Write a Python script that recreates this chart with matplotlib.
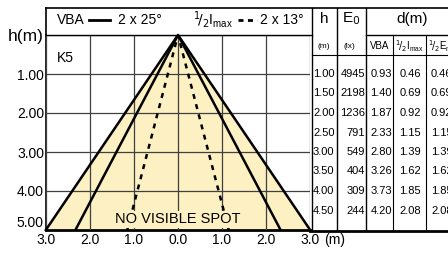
import numpy as np
import matplotlib.pyplot as plt
from matplotlib.lines import Line2D
from matplotlib import transforms

plt.rcParams['font.family'] = ['Liberation Sans', 'DejaVu Sans']

# beam data
vba_angle = 25.0          # 2 x 25 deg
half_imax_angle = 13.0    # 2 x 13 deg
outer_angle = 31.0        # outer light cone
max_h = 5.0

heights = [1.00, 1.50, 2.00, 2.50, 3.00, 3.50, 4.00, 4.50]
e0 = [4945, 2198, 1236, 791, 549, 404, 309, 244]
d_vba = [0.93, 1.40, 1.87, 2.33, 2.80, 3.26, 3.73, 4.20]
d_half_imax = [0.46, 0.69, 0.92, 1.15, 1.39, 1.62, 1.85, 2.08]
d_half_e = [0.46, 0.69, 0.92, 1.15, 1.39, 1.62, 1.85, 2.08]

x_ticks = [-3, -2, -1, 0, 1, 2, 3]
h_ticks = [0, 1, 2, 3, 4, 5]

W, H = 448, 254
def fx(px):
    return px / W
def fy(py):
    return 1 - py / H

fig = plt.figure(figsize=(W / 100, H / 100), dpi=100)
ax = fig.add_axes([fx(46), fy(230), (310 - 46) / W, (230 - 35) / H])
ax.set_xlim(-3, 3)
ax.set_ylim(5, 0)

# cones
r_out = max_h * np.tan(np.radians(outer_angle))
r_vba = max_h * np.tan(np.radians(vba_angle))
r_imax = max_h * np.tan(np.radians(half_imax_angle))
ax.fill([-r_out, 0, r_out], [max_h, 0, max_h], color='#fdf0c2', zorder=1, lw=0)
ax.plot([-r_out, 0, r_out], [max_h, 0, max_h], color='black', lw=1.8, zorder=3, clip_on=False)
ax.plot([-r_vba, 0, r_vba], [max_h, 0, max_h], color='black', lw=1.8, zorder=3)
ax.plot([-r_imax, 0, r_imax], [max_h, 0, max_h], color='black', lw=1.8, zorder=3,
        dashes=(2.0, 2.2))

ax.text(0, 4.72, 'NO VISIBLE SPOT', ha='center', va='center', fontsize=10.5, zorder=4,
        bbox=dict(facecolor='#fdf0c2', edgecolor='none', pad=1.0))

# grid and axes
ax.set_xticks(x_ticks)
ax.set_yticks(h_ticks)
ax.set_xticklabels(['%.1f' % abs(v) for v in x_ticks], fontsize=10)
ax.set_yticklabels(['h(m)'] + ['%.2f' % v for v in h_ticks[1:]], fontsize=10)
ylabs = ax.get_yticklabels()
ylabs[0].set_fontsize(12.5)
ylabs[-1].set_verticalalignment('bottom')
ax.tick_params(length=0, pad=1.5)
ax.tick_params(axis='x', pad=2.5)
ax.grid(True, color='#404040', lw=0.9, zorder=2)
ax.set_axisbelow(False)
for s in ['top', 'right']:
    ax.spines[s].set_visible(False)
ax.spines['left'].set_linewidth(1.2)
ax.spines['bottom'].set_linewidth(2.0)
fig.text(fx(324), fy(240), '(m)', fontsize=10, ha='left', va='center')

# header box
def hline(y, x0, x1, lw=1.0):
    fig.add_artist(Line2D([fx(x0), fx(x1)], [fy(y), fy(y)], color='black', lw=lw))
def vline(x, y0, y1, lw=1.0):
    fig.add_artist(Line2D([fx(x), fx(x)], [fy(y0), fy(y1)], color='black', lw=lw))

hline(7.5, 46, 448, 1.2)
vline(46, 7.5, 35, 1.2)
hline(35, 46, 312, 1.0)
hline(35, 366, 448, 1.0)
hline(55, 312, 448, 0.8)
hline(230.5, 310, 448, 2.0)
vline(311.5, 7.5, 230, 1.0)
vline(337, 7.5, 230, 1.0)
vline(366, 7.5, 230, 1.0)
vline(393, 35, 230, 0.8)
vline(426, 35, 230, 0.8)

fig.text(fx(57), fy(20), 'VBA', fontsize=10, va='center')
fig.add_artist(Line2D([fx(89), fx(110)], [fy(20), fy(20)], color='black', lw=2.0))
fig.text(fx(118), fy(20), '2 x 25°', fontsize=10, va='center')
fig.text(fx(193), fy(20), r'$^{1}\!/_{2}$I$_{\mathregular{max}}$', fontsize=10, va='center')
fig.add_artist(Line2D([fx(238), fx(257)], [fy(20), fy(20)], color='black', lw=2.0,
                      dashes=(1.8, 1.6)))
fig.text(fx(260), fy(20), '2 x 13°', fontsize=10, va='center')
fig.text(fx(57), fy(58), 'K5', fontsize=10, va='center')

# table
fig.text(fx(324), fy(19), 'h', fontsize=11, ha='center', va='center')
fig.text(fx(351), fy(19), r'E$_0$', fontsize=11, ha='center', va='center')
fig.text(fx(412), fy(19), 'd(m)', fontsize=11, ha='center', va='center')
fig.text(fx(324), fy(46), '(m)', fontsize=6, ha='center', va='center')
fig.text(fx(349), fy(46), '(lx)', fontsize=6, ha='center', va='center')
fig.text(fx(380), fy(46), 'VBA', fontsize=7, ha='center', va='center')
fig.text(fx(409), fy(46), r'$^{1}\!/_{2}$I$_{\mathregular{max}}$', fontsize=7, ha='center', va='center')
fig.text(fx(428), fy(46), r'$^{1}\!/_{2}$E$_{\mathregular{max}}$', fontsize=7, ha='left', va='center')

tr = transforms.blended_transform_factory(fig.transFigure, ax.transData)
for i, hv in enumerate(heights):
    ax.text(fx(313), hv, '%.2f' % hv, transform=tr, fontsize=8, ha='left', va='center', clip_on=False)
    ax.text(fx(365), hv, '%d' % e0[i], transform=tr, fontsize=8, ha='right', va='center', clip_on=False)
    ax.text(fx(392), hv, '%.2f' % d_vba[i], transform=tr, fontsize=8, ha='right', va='center', clip_on=False)
    ax.text(fx(410), hv, '%.2f' % d_half_imax[i], transform=tr, fontsize=8, ha='center', va='center', clip_on=False)
    ax.text(fx(431), hv, '%.2f' % d_half_e[i], transform=tr, fontsize=8, ha='left', va='center', clip_on=False)

fig.savefig('out.png', dpi=100)
